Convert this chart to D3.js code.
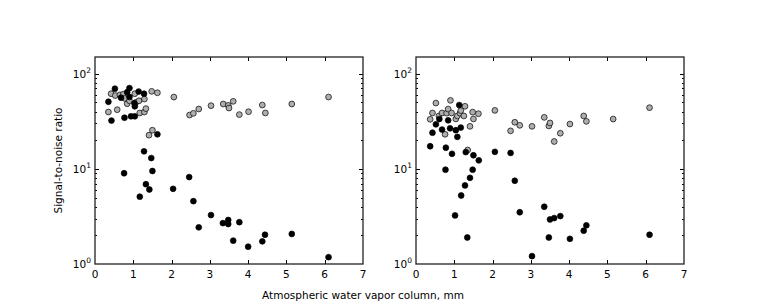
<!DOCTYPE html>
<html>
<head>
<meta charset="utf-8">
<script src="https://cdn.jsdelivr.net/npm/d3@7"></script>
<style>
  body { margin: 0; background: #fff; }
  svg text { font-family: "DejaVu Sans", sans-serif; fill: #000; }
</style>
</head>
<body>
<svg id="chart" width="760" height="308"></svg>
<script>
'use strict';

// left panel, black series
var leftBlackX = [0.35, 0.52, 0.43, 0.68, 0.77, 0.76, 0.84, 0.90, 0.90, 0.94, 1.03, 1.04, 1.04, 1.14, 1.17,
  1.28, 1.28, 1.33, 1.42, 1.47, 1.50, 1.63, 2.04, 2.46, 2.57, 2.71, 3.03, 3.34, 3.48, 3.48, 3.61, 3.77,
  4.00, 4.37, 4.44, 5.14, 6.10];
var leftBlackY = [50.8, 69.6, 32.2, 56, 34.5, 9.0, 64, 70.7, 57, 35.7, 49, 35.7, 45.4, 65, 5.1,
  61.7, 15.3, 6.9, 6.07, 13.0, 9.5, 23.1, 6.17, 8.2, 4.58, 2.43, 3.27, 2.69, 2.9, 2.63, 1.76, 2.75,
  1.52, 1.73, 2.03, 2.07, 1.18];

// left panel, grey series
var leftGreyX = [0.35, 0.42, 0.53, 0.58, 0.65, 0.74, 0.78, 0.84, 0.90, 1.04, 1.07, 1.15, 1.17, 1.29, 1.29,
  1.33, 1.41, 1.48, 1.50, 1.63, 2.06, 2.47, 2.57, 2.71, 3.03, 3.35, 3.48, 3.50, 3.61, 3.77, 4.01, 4.37,
  4.45, 5.14, 6.10];
var leftGreyY = [39.6, 61.7, 59, 41.9, 60, 61, 55, 48.4, 52, 61.7, 50, 52, 38.7, 39.6, 54.2,
  43, 22.6, 65.3, 25.5, 63.1, 56.9, 36.8, 38.4, 42.6, 46.2, 48.1, 46.5, 43.6, 51.3, 37.2, 39.9, 46.9,
  38.7, 48.1, 56.9];

// right panel, black series
var rightBlackX = [0.37, 0.43, 0.52, 0.61, 0.68, 0.77, 0.78, 0.84, 0.89, 0.94, 1.02, 1.04, 1.08, 1.13, 1.17,
  1.18, 1.28, 1.30, 1.34, 1.41, 1.48, 1.50, 1.64, 2.06, 2.47, 2.58, 2.71, 3.03, 3.35, 3.47, 3.50, 3.61,
  3.77, 4.02, 4.38, 4.45, 6.10];
var rightBlackY = [17.3, 24, 29.4, 33.4, 25.9, 9.8, 16.7, 32.4, 26.7, 14.4, 3.24, 25.5, 21.7, 46.9, 27.2,
  5.25, 6.7, 15, 1.9, 8.05, 9.8, 13.9, 12.3, 15.1, 14.7, 7.5, 3.5, 1.21, 4.0, 1.9, 2.94, 3.04,
  3.19, 1.84, 2.24, 2.55, 2.03];

// right panel, grey series
var rightGreyX = [0.37, 0.43, 0.52, 0.60, 0.68, 0.76, 0.80, 0.84, 0.90, 0.93, 1.04, 1.08, 1.15, 1.17, 1.25,
  1.28, 1.35, 1.41, 1.48, 1.50, 1.63, 2.06, 2.47, 2.58, 2.71, 3.03, 3.35, 3.47, 3.50, 3.61, 3.77, 4.02,
  4.38, 4.45, 5.15, 6.10];
var rightGreyY = [33.2, 38.7, 49.2, 36, 38.7, 23.1, 38.5, 42.5, 52.5, 38.7, 33.5, 36, 38.5, 41, 36,
  45.5, 15.8, 28, 39.5, 33.5, 38, 41.2, 25.1, 30.9, 28.7, 28, 34.8, 28.3, 30.4, 19.4, 23.7, 29.6,
  36, 31.6, 33.4, 44];

var xTicks = [0, 1, 2, 3, 4, 5, 6, 7];
var yMajor = [1, 10, 100];
var yExponents = ['0', '1', '2'];

var sSvg = d3.select('#chart');
var rPlot = {top: 57, height: 207, width: 268};
var aPanelLeft = [95, 416];

var scaleY = d3.scaleLog().domain([1, 150]).range([rPlot.top + rPlot.height, rPlot.top]);

var aMinor = [];
[1, 10, 100].forEach(function(nBase)
{
  for (var k = 2; k <= 9; k++)
  {
    if (nBase * k <= 150) aMinor.push(nBase * k);
  }
});

function DrawPanel(nLeft, aBlackX, aBlackY, aGreyX, aGreyY, bYLabels)
{
  var scaleX = d3.scaleLinear().domain([0, 7]).range([nLeft, nLeft + rPlot.width]);
  var nBottom = rPlot.top + rPlot.height;
  var nRight = nLeft + rPlot.width;
  var g = sSvg.append('g');

  // ticks pointing inwards on all four sides
  var sTicks = g.append('g').attr('stroke', '#000').attr('stroke-width', 1);
  xTicks.slice(1, -1).forEach(function(t)
  {
    var x = Math.round(scaleX(t)) + 0.5;
    sTicks.append('line').attr('x1', x).attr('x2', x).attr('y1', nBottom).attr('y2', nBottom - 4);
    sTicks.append('line').attr('x1', x).attr('x2', x).attr('y1', rPlot.top).attr('y2', rPlot.top + 4);
  });
  yMajor.concat(aMinor).forEach(function(v)
  {
    var y = Math.round(scaleY(v)) + 0.5;
    var nLen = yMajor.indexOf(v) >= 0 ? 4 : 2;
    if (v === 1) return;
    sTicks.append('line').attr('x1', nLeft).attr('x2', nLeft + nLen).attr('y1', y).attr('y2', y);
    sTicks.append('line').attr('x1', nRight).attr('x2', nRight - nLen).attr('y1', y).attr('y2', y);
  });

  function AddPoints(aX, aY, strFill)
  {
    g.append('g').selectAll('circle')
      .data(aX.map(function(x, i) { return [x, aY[i]]; }))
      .enter()
        .append('circle')
          .attr('cx', function(d) { return scaleX(d[0]); })
          .attr('cy', function(d) { return scaleY(d[1]); })
          .attr('r', 2.9)
          .attr('fill', strFill)
          .attr('stroke', '#000')
          .attr('stroke-width', 0.7);
  }
  AddPoints(aGreyX, aGreyY, '#aeaeae');
  AddPoints(aBlackX, aBlackY, '#000');

  g.append('rect')
    .attr('x', nLeft).attr('y', rPlot.top)
    .attr('width', rPlot.width).attr('height', rPlot.height)
    .attr('fill', 'none').attr('stroke', '#222').attr('stroke-width', 1.3);

  g.selectAll('.xlab')
    .data(xTicks)
    .enter()
      .append('text')
        .attr('x', function(d) { return scaleX(d); })
        .attr('y', nBottom + 14)
        .attr('text-anchor', 'middle')
        .style('font-size', '10.5px')
        .text(function(d) { return d; });

  var sYLab = g.selectAll('.ylab')
    .data(yMajor)
    .enter()
      .append('text')
        .attr('x', nLeft - 4)
        .attr('y', function(d) { return scaleY(d) + 4; })
        .attr('text-anchor', 'end')
        .style('font-size', '10.5px');
  sYLab.append('tspan').text('10');
  sYLab.append('tspan')
    .attr('dy', -5)
    .style('font-size', '7.5px')
    .text(function(d, i) { return yExponents[i]; });

  if (bYLabels)
  {
    g.append('text')
      .attr('transform', 'translate(62,' + (rPlot.top + rPlot.height / 2) + ') rotate(-90)')
      .attr('text-anchor', 'middle')
      .style('font-size', '10.5px')
      .text('Signal-to-noise ratio');
  }
}

DrawPanel(aPanelLeft[0], leftBlackX, leftBlackY, leftGreyX, leftGreyY, true);
DrawPanel(aPanelLeft[1], rightBlackX, rightBlackY, rightGreyX, rightGreyY, false);

sSvg.append('text')
  .attr('x', 363)
  .attr('y', 299)
  .attr('text-anchor', 'middle')
  .style('font-size', '10.5px')
  .text('Atmospheric water vapor column, mm');
</script>
</body>
</html>
